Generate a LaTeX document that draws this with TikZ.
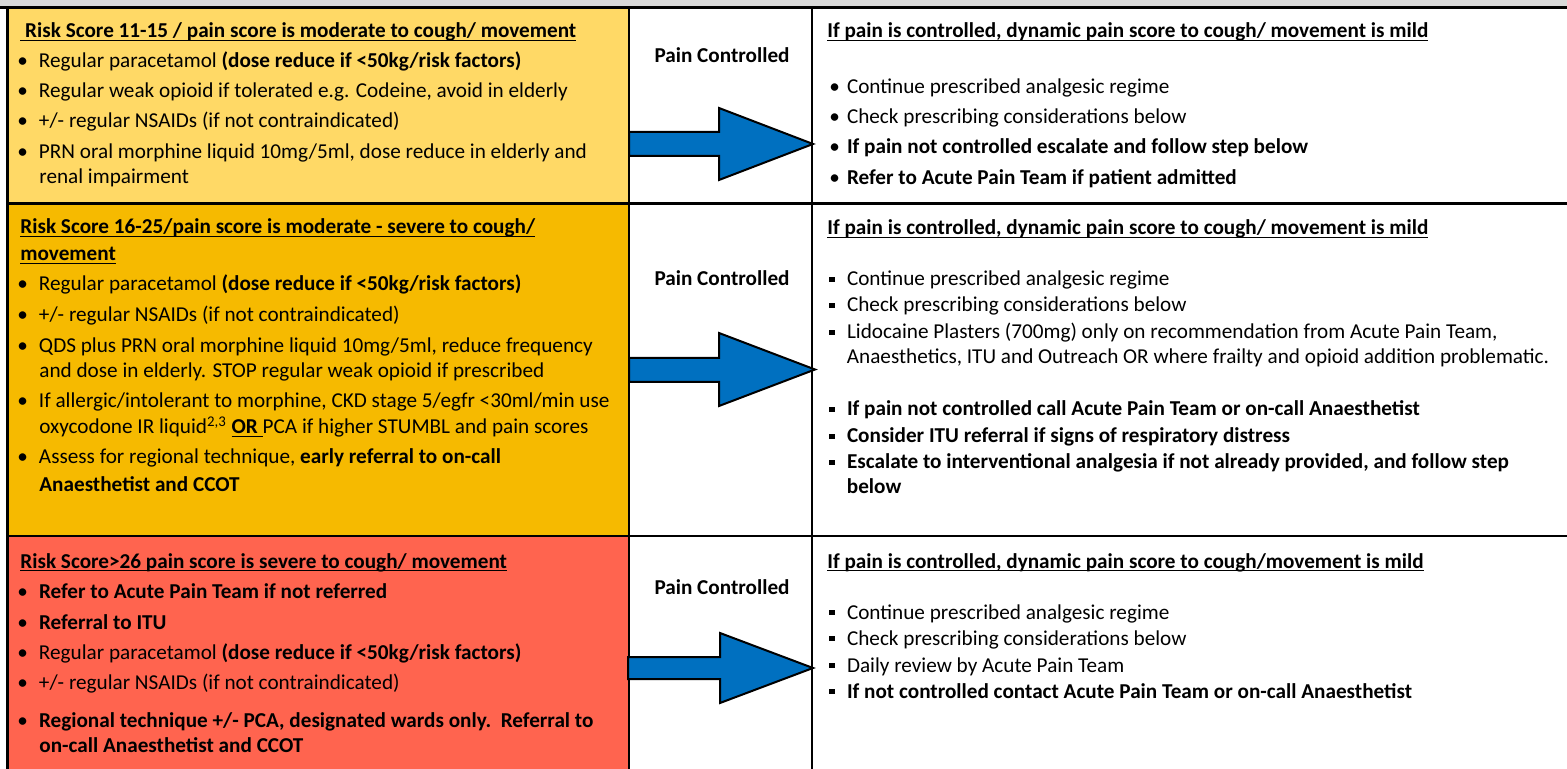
\documentclass[tikz,border=0pt]{standalone}
\usepackage{fontspec}
\setmainfont{Carlito}
\usepackage{tikz}
\definecolor{riskmod}{HTML}{FFD966}
\definecolor{riskhigh}{HTML}{F6BA00}
\definecolor{risksev}{HTML}{FF644F}
\definecolor{arrowblue}{HTML}{0070C0}
\definecolor{bandgray}{HTML}{D9D9D9}
\newcommand{\lbul}{\makebox[10.8pt][l]{\textbullet}}
\newcommand{\rbul}{\makebox[8.8pt][l]{\textbullet}}
\newcommand{\sqbul}{\makebox[8.8pt][l]{\rule[0.2em]{0.24em}{0.24em}}}
\newcommand{\undl}[1]{\setbox0\hbox{#1}\rlap{\rule[-1.6pt]{\wd0}{0.65pt}}\box0}

\begin{document}
\begin{tikzpicture}[line cap=round,line join=round,x=0.5pt,y=-0.5pt,
    txt/.style={anchor=base west,inner sep=0pt,font=\fontsize{10.6}{12}\selectfont},
    ctr/.style={anchor=base,inner sep=0pt,font=\fontsize{10.6}{12}\selectfont\bfseries},
    grid/.style={line width=1.4pt,line cap=rect},
    blockarrow/.style={fill=arrowblue,draw=black,line width=1pt,line join=miter}]
\clip(0,0) rectangle (1567,769);
% header band
\fill[bandgray] (0,0) rectangle (1567,6);
\draw[line width=1.5pt] (0,7.5)-- (1567,7.5);
% risk boxes
\draw[grid,fill=riskmod] (7.5,8) rectangle (629,203.5);
\draw[grid,fill=riskhigh] (7.5,203.5) rectangle (629,536);
\draw[grid,fill=risksev] (7.5,536) rectangle (629,780);
% columns
\draw[grid] (812,8)-- (812,780);
\draw[grid] (629,203.5)-- (1567,203.5);
\draw[grid] (629,536)-- (1567,536);
% arrows
\draw[blockarrow] (629,132)-- (719,132)-- (719,108)-- (813,144)-- (719,180)-- (719,156)-- (629,156)-- cycle;
\draw[blockarrow] (629,358)-- (719,358)-- (719,333)-- (815,369.5)-- (719,406)-- (719,382)-- (629,382)-- cycle;
\draw[blockarrow] (628,657)-- (720,657)-- (720,633)-- (813,668)-- (720,703)-- (720,679)-- (628,679)-- cycle;
% row 1
\node[txt] (ta) at (20,38) {\textbf{\undl{\ Risk Score 11-15 / pain score is moderate to cough/ movement}}};
\node[txt] (ta1) at (17,68) {\lbul Regular paracetamol \textbf{(dose reduce if <50kg/risk factors)}};
\node[txt] (ta2) at (17,98) {\lbul Regular weak opioid if tolerated e.g. Codeine, avoid in elderly};
\node[txt] (ta3) at (17,128) {\lbul +/- regular NSAIDs (if not contraindicated)};
\node[txt] (ta4) at (17,159) {\lbul PRN oral morphine liquid 10mg/5ml, dose reduce in elderly and};
\node[txt] (ta5) at (39,184) {renal impairment};
\node[ctr] (pca) at (722,62.5) {Pain Controlled};
\node[txt] (ra) at (827,38) {\textbf{\undl{If pain is controlled, dynamic pain score to cough/ movement is mild}}};
\node[txt] (ra1) at (829,94) {\rbul Continue prescribed analgesic regime};
\node[txt] (ra2) at (829,124) {\rbul Check prescribing considerations below};
\node[txt] (ra3) at (829,154) {\rbul \textbf{If pain not controlled escalate and follow step below}};
\node[txt] (ra4) at (829,185) {\rbul \textbf{Refer to Acute Pain Team if patient admitted}};
% row 2
\node[txt] (tb) at (20,234) {\textbf{\undl{Risk Score 16-25/pain score is moderate - severe to cough/}}};
\node[txt] (tb0) at (20,261) {\textbf{\undl{movement}}};
\node[txt] (tb1) at (17,291) {\lbul Regular paracetamol \textbf{(dose reduce if <50kg/risk factors)}};
\node[txt] (tb2) at (17,322) {\lbul +/- regular NSAIDs (if not contraindicated)};
\node[txt] (tb3) at (17,353) {\lbul QDS plus PRN oral morphine liquid 10mg/5ml, reduce frequency};
\node[txt] (tb4) at (39,378) {and dose in elderly. STOP regular weak opioid if prescribed};
\node[txt] (tb5) at (17,408) {\lbul If allergic/intolerant to morphine, CKD stage 5/egfr <30ml/min use};
\node[txt] (tb6) at (39,434) {oxycodone IR liquid\textsuperscript{2,3} \textbf{\undl{OR }}PCA if higher STUMBL and pain scores};
\node[txt] (tb7) at (17,464) {\lbul Assess for regional technique, \textbf{early referral to on-call}};
\node[txt] (tb8) at (39,491) {\textbf{Anaesthetist and CCOT}};
\node[ctr] (pcb) at (722,286) {Pain Controlled};
\node[txt] (rb) at (827,235) {\textbf{\undl{If pain is controlled, dynamic pain score to cough/ movement is mild}}};
\node[txt] (rb1) at (829,286) {\sqbul Continue prescribed analgesic regime};
\node[txt] (rb2) at (829,312) {\sqbul Check prescribing considerations below};
\node[txt] (rb3) at (829,339) {\sqbul Lidocaine Plasters (700mg) only on recommendation from Acute Pain Team,};
\node[txt] (rb4) at (846.5,364) {Anaesthetics, ITU and Outreach OR where frailty and opioid addition problematic.};
\node[txt] (rb5) at (829,416) {\sqbul \textbf{If pain not controlled call Acute Pain Team or on-call Anaesthetist}};
\node[txt] (rb6) at (829,443) {\sqbul \textbf{Consider ITU referral if signs of respiratory distress}};
\node[txt] (rb7) at (829,469) {\sqbul \textbf{Escalate to interventional analgesia if not already provided, and follow step}};
\node[txt] (rb8) at (846.5,494) {\textbf{below}};
% row 3
\node[txt] (tc) at (20,568) {\textbf{\undl{Risk Score>26 pain score is severe to cough/ movement}}};
\node[txt] (tc1) at (17,598) {\lbul \textbf{Refer to Acute Pain Team if not referred}};
\node[txt] (tc2) at (17,629) {\lbul \textbf{Referral to ITU}};
\node[txt] (tc3) at (17,659) {\lbul Regular paracetamol \textbf{(dose reduce if <50kg/risk factors)}};
\node[txt] (tc4) at (17,689) {\lbul +/- regular NSAIDs (if not contraindicated)};
\node[txt] (tc5) at (17,727) {\lbul \textbf{Regional technique +/- PCA, designated wards only.\ \ Referral to}};
\node[txt] (tc6) at (39,752) {\textbf{on-call Anaesthetist and CCOT}};
\node[ctr] (pcc) at (722,594) {Pain Controlled};
\node[txt] (rc) at (827,568) {\textbf{\undl{If pain is controlled, dynamic pain score to cough/movement is mild}}};
\node[txt] (rc1) at (829,619) {\sqbul Continue prescribed analgesic regime};
\node[txt] (rc2) at (829,645) {\sqbul Check prescribing considerations below};
\node[txt] (rc3) at (829,672) {\sqbul Daily review by Acute Pain Team};
\node[txt] (rc4) at (829,698) {\sqbul \textbf{If not controlled contact Acute Pain Team or on-call Anaesthetist}};
\end{tikzpicture}
\end{document}
